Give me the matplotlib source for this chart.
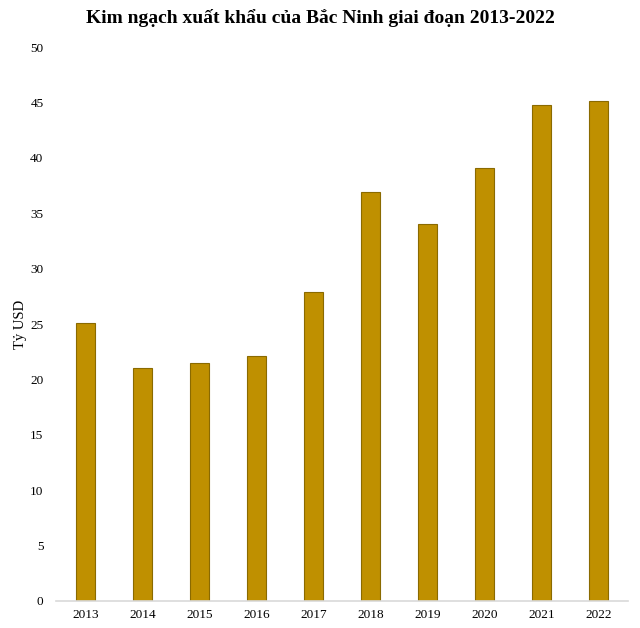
import numpy as np
import matplotlib.pyplot as plt

plt.rcParams['font.family'] = ['Liberation Serif', 'DejaVu Serif']

years = ['2013', '2014', '2015', '2016', '2017', '2018', '2019', '2020', '2021', '2022']
values = [25.1, 21.0, 21.5, 22.1, 27.9, 36.9, 34.0, 39.1, 44.8, 45.1]

fig = plt.figure(figsize=(6.4, 6.28), dpi=100)
ax = fig.add_axes([0.0875, 0.043, 0.8935, 0.882])

x = np.arange(len(years))
ax.bar(x, values, width=0.33, color='#BF9000', edgecolor='#8A6A00', linewidth=0.8)

ax.set_xlim(-0.52, 9.51)
ax.set_ylim(0, 50)
ax.set_yticks(np.arange(0, 51, 5))
ax.set_xticks(x)
ax.set_xticklabels(years)
ax.tick_params(axis='both', length=0, labelsize=9.5)
ax.tick_params(axis='y', pad=9)
ax.tick_params(axis='x', pad=6)

for s in ['top', 'right', 'left']:
    ax.spines[s].set_visible(False)
ax.spines['bottom'].set_color('#D9D9D9')
ax.spines['bottom'].set_linewidth(1.2)

ax.set_ylabel('Tỷ USD', fontsize=10.5, labelpad=2)
fig.suptitle('Kim ngạch xuất khẩu của Bắc Ninh giai đoạn 2013-2022',
             fontsize=14, fontweight='bold', y=0.985)

fig.savefig('out.png', dpi=100)
